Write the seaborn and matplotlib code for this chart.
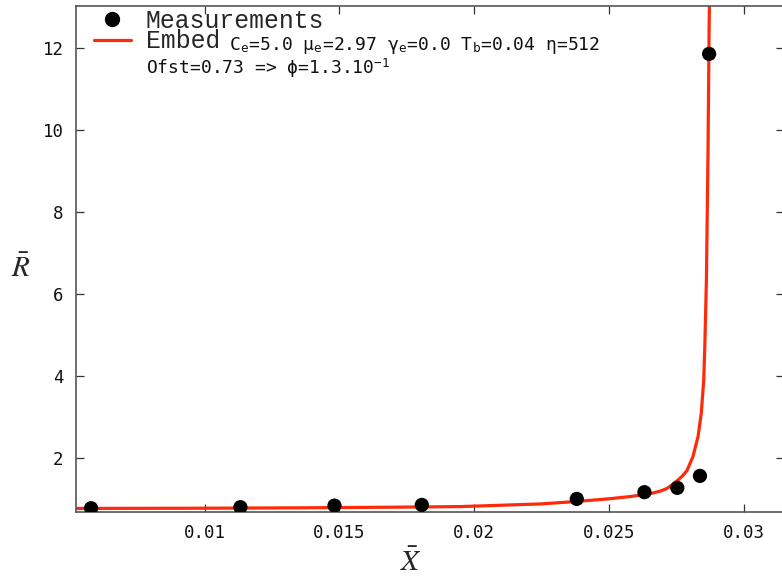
import numpy as np
import pandas as pd
import matplotlib
matplotlib.use("Agg")
import matplotlib.pyplot as plt
from matplotlib.lines import Line2D
from matplotlib.ticker import FixedLocator, FixedFormatter
import seaborn as sns

# Measured points
meas_x = [0.00579, 0.01133, 0.01482, 0.01806, 0.02381, 0.02632, 0.02754, 0.02838, 0.02872]
meas_r = [0.78, 0.805, 0.844, 0.861, 1.007, 1.171, 1.276, 1.568, 11.86]

# Embedding model curve
fit_x = [0.00527, 0.01000, 0.01356, 0.01700, 0.01950, 0.02248, 0.02372, 0.02496,
         0.02580, 0.02650, 0.02690, 0.02715, 0.02735, 0.02757, 0.02775, 0.02790,
         0.02812, 0.02831, 0.02843, 0.02852, 0.02856, 0.02862, 0.02868, 0.02872,
         0.02874]
fit_r = [0.775, 0.780, 0.790, 0.805, 0.820, 0.885, 0.941, 1.007,
         1.065, 1.130, 1.195, 1.260, 1.350, 1.471, 1.580, 1.700,
         2.04, 2.53, 3.10, 3.91, 4.72, 6.35, 9.52, 12.5,
         13.5]

x_ticks = [0.01, 0.015, 0.02, 0.025, 0.03]
x_tick_labels = ["0.01", "0.015", "0.02", "0.025", "0.03"]
y_ticks = [2, 4, 6, 8, 10, 12]
y_tick_labels = ["2", "4", "6", "8", "10", "12"]

meas = pd.DataFrame({"x": meas_x, "r": meas_r})
fit = pd.DataFrame({"x": fit_x, "r": fit_r})

sns.set_theme(style="ticks")
plt.rcParams["font.family"] = ["DejaVu Sans Mono", "DejaVu Sans"]
plt.rcParams["mathtext.fontset"] = "stix"

W, H = 782, 581
fig = plt.figure(figsize=(W / 100, H / 100), dpi=100)
ax = fig.add_axes([76 / W, 1 - 511.5 / H, (783.5 - 76) / W, (511.5 - 5.5) / H])

red = "#ff2a0a"
sns.lineplot(data=fit, x="x", y="r", ax=ax, color=red, lw=2.3,
             sort=False, estimator=None, legend=False, zorder=2)
sns.scatterplot(data=meas, x="x", y="r", ax=ax, color="black", s=105,
                edgecolor="none", legend=False, zorder=3)

ax.set_xlim(0.00523, 0.03148)
ax.set_ylim(0.70, 13.04)

ax.xaxis.set_major_locator(FixedLocator(x_ticks))
ax.xaxis.set_major_formatter(FixedFormatter(x_tick_labels))
ax.yaxis.set_major_locator(FixedLocator(y_ticks))
ax.yaxis.set_major_formatter(FixedFormatter(y_tick_labels))

spine_col = "#555555"
for s in ax.spines.values():
    s.set_visible(True)
    s.set_color(spine_col)
    s.set_linewidth(1.2)

ax.tick_params(axis="both", which="major", direction="in", length=6, width=0.9,
               color="#333333", top=True, right=True, labelsize=12.5,
               labelcolor="#111111")
ax.tick_params(axis="x", pad=9)
ax.tick_params(axis="y", pad=9)

ax.set_xlabel(r"$\bar{X}$", fontsize=21, labelpad=2)
ax.xaxis.set_label_coords(0.473, -0.102)
ax.xaxis.label.set_va("center")
ax.set_ylabel(r"$\bar{R}$", fontsize=21, rotation=0)
ax.yaxis.set_label_coords(-0.078, 0.48)
ax.yaxis.label.set_va("center")

handles = [
    Line2D([], [], marker="o", ls="none", color="black", markersize=10),
    Line2D([], [], color=red, lw=2.3),
]
leg = ax.legend(handles, ["Measurements", "Embed"], loc="upper left",
                bbox_to_anchor=(0.018, 1.003), frameon=False,
                prop={"family": "Liberation Mono", "size": 17.8},
                handlelength=1.5, handletextpad=0.6, labelspacing=-0.15,
                borderaxespad=0.0, borderpad=0.2)

fig.text(229 / W, 1 - 45 / H,
         r"C$_\mathregular{e}$=5.0 μ$_\mathregular{e}$=2.97 γ$_\mathregular{e}$=0.0 "
         r"T$_\mathregular{b}$=0.04 η=512",
         fontsize=13, va="center", ha="left", color="#111111",
         family=["DejaVu Sans Mono", "DejaVu Sans"])
fig.text(146 / W, 1 - 68 / H,
         r"Ofst=0.73 => ϕ=1.3.10$^\mathregular{-1}$",
         fontsize=13, va="center", ha="left", color="#111111",
         family=["DejaVu Sans Mono", "DejaVu Sans"])

fig.savefig("out.png", dpi=100)
